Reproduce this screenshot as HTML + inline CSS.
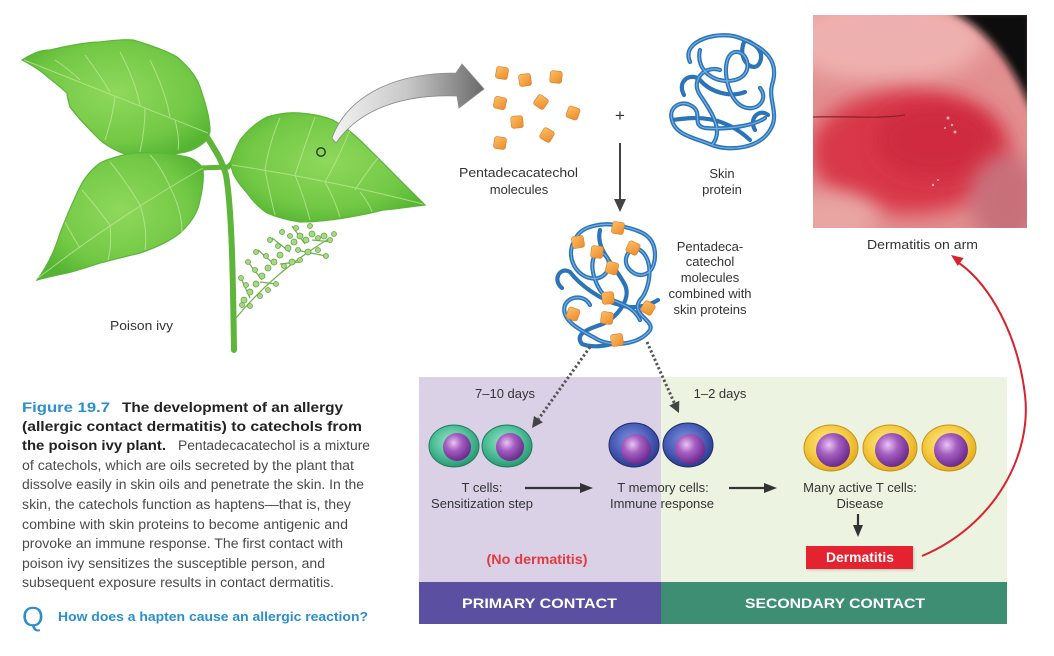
<!DOCTYPE html>
<html><head><meta charset="utf-8">
<style>
html,body{margin:0;padding:0;background:#fff;}
svg{display:block;}
text{font-family:"Liberation Sans",Arial,sans-serif;}
</style></head>
<body>
<svg width="1054" height="656" viewBox="0 0 1054 656" xmlns="http://www.w3.org/2000/svg">
<defs>
  <radialGradient id="leafG" cx="50%" cy="45%" r="60%">
    <stop offset="0" stop-color="#8fd85c"/>
    <stop offset="0.7" stop-color="#72c845"/>
    <stop offset="1" stop-color="#55b433"/>
  </radialGradient>
  <linearGradient id="arrG" x1="330" y1="0" x2="484" y2="0" gradientUnits="userSpaceOnUse">
    <stop offset="0" stop-color="#f4f4f4"/>
    <stop offset="0.5" stop-color="#c8c8c8"/>
    <stop offset="1" stop-color="#6a6a6a"/>
  </linearGradient>
  <radialGradient id="tealG" cx="45%" cy="40%" r="60%">
    <stop offset="0" stop-color="#9fe6c8"/>
    <stop offset="0.6" stop-color="#4fbf98"/>
    <stop offset="1" stop-color="#2a9774"/>
  </radialGradient>
  <radialGradient id="blueG" cx="45%" cy="40%" r="60%">
    <stop offset="0" stop-color="#8294e0"/>
    <stop offset="0.6" stop-color="#4a5fb8"/>
    <stop offset="1" stop-color="#2c3b8e"/>
  </radialGradient>
  <radialGradient id="yelG" cx="45%" cy="40%" r="60%">
    <stop offset="0" stop-color="#fdeb94"/>
    <stop offset="0.6" stop-color="#f5cd45"/>
    <stop offset="1" stop-color="#e4ab1e"/>
  </radialGradient>
  <radialGradient id="nucG" cx="38%" cy="35%" r="65%">
    <stop offset="0" stop-color="#e9c4f2"/>
    <stop offset="0.45" stop-color="#a45ec0"/>
    <stop offset="1" stop-color="#6c2c8e"/>
  </radialGradient>
  <linearGradient id="orG" x1="0" y1="0" x2="1" y2="1">
    <stop offset="0" stop-color="#fbc066"/>
    <stop offset="1" stop-color="#ec8a2a"/>
  </linearGradient>
  <filter id="blur10" x="-50%" y="-50%" width="200%" height="200%"><feGaussianBlur stdDeviation="10"/></filter>
  <filter id="blur4" x="-50%" y="-50%" width="200%" height="200%"><feGaussianBlur stdDeviation="4"/></filter>
  <filter id="blur1" x="-20%" y="-20%" width="140%" height="140%"><feGaussianBlur stdDeviation="0.8"/></filter>
  <clipPath id="phc"><rect x="813" y="15" width="214" height="213"/></clipPath>
  <g id="sq"><rect x="-6" y="-6" width="12" height="12" rx="2.5" fill="url(#orG)" stroke="#d97a28" stroke-width="0.6"/></g>
</defs>

<rect width="1054" height="656" fill="#fff"/>

<!-- ============ POISON IVY ============ -->
<g>
  <path d="M207,137 C215,150 222,160 226,175 C232,210 233,280 234,350" fill="none" stroke="#5fb53a" stroke-width="6" stroke-linecap="round"/>
  <path d="M200,168 L228,167 L233,162" fill="none" stroke="#5fb53a" stroke-width="5" stroke-linecap="round"/>
  <path d="M22,60 C35,52 42,50 50,50 C70,45 90,42 100,42 C115,40 125,39 133,40 C150,45 165,50 177,57 C190,68 197,78 200,87 C206,105 210,118 210,132 L207,140 C198,148 190,152 180,153 C160,157 145,158 133,157 C118,152 108,147 100,140 C88,128 78,118 70,107 C68,100 67,96 67,93 C58,85 50,79 43,73 C35,67 28,63 22,60 Z" fill="url(#leafG)" stroke="#5cb538" stroke-width="1.2"/>
  <path d="M203,168 C198,162 192,158 187,157 C170,153 150,152 133,153 C118,156 108,159 100,163 C88,172 82,182 77,193 C70,208 65,220 60,233 C55,250 48,265 37,280 C48,277 58,275 67,273 C80,270 90,266 100,263 C115,259 128,256 140,253 C158,247 170,241 180,233 C192,222 198,212 200,200 C203,188 204,178 203,168 Z" fill="url(#leafG)" stroke="#5cb538" stroke-width="1.2"/>
  <path d="M230,163 C234,152 237,146 240,140 C248,130 257,122 267,117 C280,113 290,112 300,113 C313,114 323,116 333,120 C346,127 356,136 367,147 C378,158 390,170 400,180 C410,190 418,198 425,205 C410,207 396,209 383,210 C372,213 362,215 350,217 C333,220 316,222 300,222 C286,220 276,217 267,213 C258,207 252,200 247,193 C241,186 236,180 233,173 Z" fill="url(#leafG)" stroke="#5cb538" stroke-width="1.2"/>
  <g fill="none" stroke="#c4eb9f" stroke-width="1" opacity="0.7">
    <path d="M208,133 Q120,98 24,60"/>
    <path d="M170,117 Q165,90 150,60 M140,105 Q135,80 120,52 M110,92 Q100,75 85,55 M80,80 Q70,70 55,60 M175,120 Q180,140 178,150 M145,108 Q145,130 140,152 M115,97 Q112,120 105,140"/>
    <path d="M203,168 Q120,215 38,278"/>
    <path d="M170,187 Q160,165 150,155 M140,205 Q125,180 110,162 M110,225 Q95,205 82,190 M80,248 Q70,232 65,222 M170,187 Q182,210 182,232 M140,205 Q148,230 145,250 M110,225 Q112,245 108,260"/>
    <path d="M232,165 Q330,180 423,204"/>
    <path d="M265,170 Q270,140 280,118 M295,175 Q305,145 315,117 M325,182 Q340,155 350,130 M355,190 Q368,170 378,158 M265,170 Q270,195 275,215 M295,175 Q305,200 310,220 M325,182 Q335,200 340,217 M360,192 Q370,205 372,212"/>
  </g>
  <g fill="none" stroke="#74b24f" stroke-width="1.3">
    <path d="M236,318 C255,295 285,265 330,238"/>
    <path d="M250,298 L241,278 M262,280 L248,262 M275,265 L258,250 M290,252 L272,238 M305,244 L292,226 M260,282 L276,284 M280,264 L300,262 M296,250 L326,256 M312,240 L332,242"/>
  </g>
  <g fill="#a6d886" stroke="#64a542" stroke-width="0.8">
    <circle cx="244" cy="300" r="3"/><circle cx="250" cy="292" r="3"/><circle cx="246" cy="285" r="2.5"/><circle cx="256" cy="284" r="3"/>
    <circle cx="262" cy="276" r="3"/><circle cx="255" cy="270" r="2.5"/><circle cx="268" cy="268" r="3"/><circle cx="274" cy="262" r="3"/>
    <circle cx="266" cy="256" r="2.5"/><circle cx="280" cy="255" r="3"/><circle cx="288" cy="248" r="3"/><circle cx="278" cy="246" r="2.5"/>
    <circle cx="294" cy="242" r="3"/><circle cx="300" cy="236" r="3"/><circle cx="290" cy="236" r="2.5"/><circle cx="306" cy="240" r="3"/>
    <circle cx="312" cy="234" r="3"/><circle cx="318" cy="238" r="2.5"/><circle cx="324" cy="236" r="3"/><circle cx="330" cy="240" r="2.5"/>
    <circle cx="298" cy="250" r="2.5"/><circle cx="308" cy="252" r="3"/><circle cx="318" cy="250" r="2.5"/><circle cx="326" cy="256" r="2.5"/>
    <circle cx="284" cy="266" r="2.5"/><circle cx="292" cy="262" r="3"/><circle cx="300" cy="260" r="2.5"/><circle cx="260" cy="296" r="2.5"/>
    <circle cx="268" cy="290" r="2.5"/><circle cx="276" cy="284" r="2.5"/><circle cx="241" cy="278" r="2.5"/><circle cx="248" cy="262" r="2.5"/>
    <circle cx="256" cy="252" r="2.5"/><circle cx="270" cy="240" r="2.5"/><circle cx="282" cy="232" r="2.5"/><circle cx="296" cy="228" r="2.5"/>
    <circle cx="310" cy="226" r="2.5"/><circle cx="242" cy="305" r="2.5"/><circle cx="250" cy="306" r="2.5"/><circle cx="334" cy="234" r="2.5"/>
  </g>
  <text x="110" y="330" font-size="13" fill="#333" textLength="63" lengthAdjust="spacingAndGlyphs">Poison ivy</text>
</g>

<path d="M332,138 C345,102 385,73 456,73 L462,64 L484,89 L459,108 L457,96 C405,94 360,108 336,143 Z" fill="url(#arrG)" stroke="#8a8a8a" stroke-width="0.8"/>
<circle cx="321" cy="152" r="4.2" fill="none" stroke="#2a3a20" stroke-width="1.4"/>

<!-- ============ MOLECULES ============ -->
<use href="#sq" transform="translate(502,73) rotate(10)"/>
<use href="#sq" transform="translate(525,80) rotate(-8)"/>
<use href="#sq" transform="translate(556,77) rotate(5)"/>
<use href="#sq" transform="translate(500,103) rotate(12)"/>
<use href="#sq" transform="translate(541,102) rotate(35)"/>
<use href="#sq" transform="translate(573,113) rotate(20)"/>
<use href="#sq" transform="translate(517,122) rotate(-5)"/>
<use href="#sq" transform="translate(500,143) rotate(8)"/>
<use href="#sq" transform="translate(547,135) rotate(30)"/>
<text x="459" y="177" font-size="13" fill="#333" textLength="119" lengthAdjust="spacingAndGlyphs">Pentadecacatechol</text>
<text x="519" y="194" font-size="13" fill="#333" text-anchor="middle">molecules</text>

<text x="620" y="121" font-size="17" fill="#333" text-anchor="middle">+</text>

<!-- skin protein -->
<g fill="none" stroke-linecap="round" stroke-linejoin="round">
  <g stroke="#2c74b8" stroke-width="4.2">
    <path d="M690,62 C680,40 720,30 740,38 C765,48 780,60 772,85 C768,100 780,115 770,130 C760,148 730,152 712,145 C695,138 675,135 672,120 C668,108 680,100 690,105 C705,112 690,125 705,128 C730,130 755,125 765,118"/>
    <path d="M700,50 C695,70 715,85 735,80 C755,75 748,50 735,52 C720,55 725,95 740,105 C755,115 770,100 760,88"/>
    <path d="M712,145 C725,130 710,110 700,95 C690,80 705,65 720,70"/>
    <path d="M745,40 C735,60 755,75 760,62 C765,50 752,42 745,40"/>
    <path d="M672,120 C690,118 720,112 750,140"/>
    <path d="M684,95 C676,80 692,72 700,80 C710,92 730,98 745,92"/>
    <path d="M755,130 C748,118 760,108 768,115"/>
  </g>
  <g stroke="#74b0e4" stroke-width="1.2">
    <path d="M690,62 C680,40 720,30 740,38 C765,48 780,60 772,85 C768,100 780,115 770,130 C760,148 730,152 712,145 C695,138 675,135 672,120 C668,108 680,100 690,105 C705,112 690,125 705,128 C730,130 755,125 765,118"/>
    <path d="M700,50 C695,70 715,85 735,80 C755,75 748,50 735,52 C720,55 725,95 740,105 C755,115 770,100 760,88"/>
    <path d="M712,145 C725,130 710,110 700,95 C690,80 705,65 720,70"/>
  </g>
</g>
<text x="722" y="178" font-size="13" fill="#333" text-anchor="middle">Skin</text>
<text x="722" y="194" font-size="13" fill="#333" text-anchor="middle">protein</text>

<line x1="620" y1="143" x2="620" y2="201" stroke="#444" stroke-width="2"/>
<polygon points="614,199 626,199 620,212" fill="#444"/>

<!-- combined tangle -->
<g fill="none" stroke-linecap="round" stroke-linejoin="round">
  <g stroke="#2c74b8" stroke-width="4.2">
    <path d="M575,240 C580,225 605,222 620,226 C640,230 655,235 655,255 C655,275 640,280 630,270 C620,260 630,245 640,250 C655,260 650,290 640,300 C630,315 655,320 650,330 C640,345 610,348 595,338 C580,330 560,320 565,305 C570,295 585,295 590,305"/>
    <path d="M575,240 C565,255 575,275 590,278 C605,282 615,265 605,255 C595,245 585,265 600,290 C610,305 630,300 640,320"/>
    <path d="M562,288 C552,280 560,266 570,272 C580,285 600,300 620,305 C635,310 650,305 658,300"/>
    <path d="M600,230 C595,250 615,265 625,285 C632,300 615,320 600,325 C585,330 575,335 582,344 C592,348 605,346 612,344"/>
  </g>
  <g stroke="#74b0e4" stroke-width="1.2">
    <path d="M575,240 C580,225 605,222 620,226 C640,230 655,235 655,255 C655,275 640,280 630,270 C620,260 630,245 640,250 C655,260 650,290 640,300 C630,315 655,320 650,330 C640,345 610,348 595,338 C580,330 560,320 565,305 C570,295 585,295 590,305"/>
    <path d="M575,240 C565,255 575,275 590,278 C605,282 615,265 605,255 C595,245 585,265 600,290 C610,305 630,300 640,320"/>
  </g>
</g>
<use href="#sq" transform="translate(618,228) rotate(10)"/>
<use href="#sq" transform="translate(578,242) rotate(-10)"/>
<use href="#sq" transform="translate(597,252) rotate(5)"/>
<use href="#sq" transform="translate(633,248) rotate(25)"/>
<use href="#sq" transform="translate(612,268) rotate(15)"/>
<use href="#sq" transform="translate(608,298) rotate(-5)"/>
<use href="#sq" transform="translate(573,314) rotate(20)"/>
<use href="#sq" transform="translate(607,318) rotate(8)"/>
<use href="#sq" transform="translate(648,308) rotate(30)"/>
<use href="#sq" transform="translate(617,340) rotate(-8)"/>
<g font-size="13" fill="#333" text-anchor="middle">
  <text x="710" y="251">Pentadeca-</text>
  <text x="710" y="266">catechol</text>
  <text x="710" y="282">molecules</text>
  <text x="710" y="298">combined with</text>
  <text x="710" y="314">skin proteins</text>
</g>

<!-- ============ PHOTO ============ -->
<g clip-path="url(#phc)">
  <rect x="813" y="15" width="214" height="213" fill="#e28f90"/>
  <ellipse cx="885" cy="40" rx="100" ry="42" fill="#eeb0ae" filter="url(#blur10)"/>
  <ellipse cx="910" cy="152" rx="100" ry="62" fill="#d8384a" filter="url(#blur10)"/>
  <ellipse cx="935" cy="140" rx="60" ry="38" fill="#cf2b3f" filter="url(#blur10)"/>
  <ellipse cx="835" cy="218" rx="45" ry="25" fill="#e8a6a3" filter="url(#blur10)"/>
  <ellipse cx="1005" cy="200" rx="35" ry="45" fill="#c76f7a" filter="url(#blur10)"/>
  <path d="M948,10 C990,28 1015,70 1032,112 L1032,10 Z" fill="#0e0a0a" filter="url(#blur4)"/>
  <path d="M813,117 C850,116 880,119 905,115" fill="none" stroke="#7a1f25" stroke-width="1.1"/>
  <g fill="#f3d3c6" opacity="0.8">
    <circle cx="948" cy="118" r="1.5"/><circle cx="952" cy="125" r="1.2"/><circle cx="955" cy="132" r="1.5"/>
    <circle cx="945" cy="128" r="1"/><circle cx="933" cy="185" r="1.2"/><circle cx="938" cy="180" r="1"/>
  </g>
</g>
<text x="867" y="249" font-size="13" fill="#333" textLength="111" lengthAdjust="spacingAndGlyphs">Dermatitis on arm</text>

<!-- ============ BOTTOM PANEL ============ -->
<rect x="419" y="377" width="242" height="205" fill="#dad1e7"/>
<rect x="661" y="377" width="346" height="205" fill="#edf3e1"/>
<rect x="419" y="582" width="242" height="42" fill="#5a4fa0"/>
<rect x="661" y="582" width="346" height="42" fill="#3e8e73"/>
<text x="462" y="608" font-size="14" font-weight="bold" fill="#fff" textLength="155" lengthAdjust="spacingAndGlyphs">PRIMARY CONTACT</text>
<text x="745" y="608" font-size="14" font-weight="bold" fill="#fff" textLength="180" lengthAdjust="spacingAndGlyphs">SECONDARY CONTACT</text>

<line x1="590" y1="347" x2="538.5" y2="419" stroke="#555" stroke-width="3" stroke-dasharray="2.3 2.3"/>
<polygon points="532,428 542.9,422.3 534,415.9" fill="#444"/>
<line x1="647" y1="342" x2="674.3" y2="403" stroke="#555" stroke-width="3" stroke-dasharray="2.3 2.3"/>
<polygon points="679,413 679.3,400.7 669.3,405.5" fill="#444"/>

<g font-size="13" fill="#333" text-anchor="middle">
  <text x="505" y="398">7–10 days</text>
  <text x="720" y="398">1–2 days</text>
  <text x="482" y="492">T cells:</text>
  <text x="482" y="508">Sensitization step</text>
  <text x="663" y="492">T memory cells:</text>
  <text x="662" y="508">Immune response</text>
  <text x="860" y="492">Many active T cells:</text>
  <text x="860" y="508">Disease</text>
</g>

<g stroke-width="1">
  <ellipse cx="454" cy="446" rx="25" ry="21" fill="url(#tealG)" stroke="#1f7a5e"/>
  <circle cx="457" cy="447" r="14" fill="url(#nucG)"/>
  <ellipse cx="507" cy="446" rx="25" ry="21" fill="url(#tealG)" stroke="#1f7a5e"/>
  <circle cx="510" cy="447" r="14" fill="url(#nucG)"/>
  <ellipse cx="634" cy="445" rx="25" ry="22" fill="url(#blueG)" stroke="#222e6e"/>
  <circle cx="636" cy="449" r="15" fill="url(#nucG)"/>
  <ellipse cx="688" cy="445" rx="25" ry="22" fill="url(#blueG)" stroke="#222e6e"/>
  <circle cx="690" cy="449" r="15" fill="url(#nucG)"/>
  <ellipse cx="831" cy="448" rx="27" ry="23" fill="url(#yelG)" stroke="#c4921a"/>
  <circle cx="833" cy="450" r="17" fill="url(#nucG)"/>
  <ellipse cx="890" cy="448" rx="27" ry="23" fill="url(#yelG)" stroke="#c4921a"/>
  <circle cx="892" cy="450" r="17" fill="url(#nucG)"/>
  <ellipse cx="949" cy="448" rx="27" ry="23" fill="url(#yelG)" stroke="#c4921a"/>
  <circle cx="951" cy="450" r="17" fill="url(#nucG)"/>
</g>

<line x1="525" y1="488" x2="582" y2="488" stroke="#333" stroke-width="2.2"/>
<polygon points="580,483 593,488 580,493" fill="#333"/>
<line x1="729" y1="488" x2="766" y2="488" stroke="#333" stroke-width="2.2"/>
<polygon points="764,483 777,488 764,493" fill="#333"/>
<line x1="858" y1="514" x2="858" y2="527" stroke="#333" stroke-width="2.2"/>
<polygon points="853,525 858,537 863,525" fill="#333"/>

<text x="537" y="564" font-size="13.5" font-weight="bold" fill="#e23a40" text-anchor="middle" textLength="101" lengthAdjust="spacingAndGlyphs">(No dermatitis)</text>

<rect x="808" y="548" width="107" height="23" fill="#b8a0a0" opacity="0.35" filter="url(#blur1)"/>
<rect x="806" y="546" width="107" height="23" fill="#e5222f"/>
<text x="860" y="562" font-size="13.5" font-weight="bold" fill="#fff" text-anchor="middle" textLength="68" lengthAdjust="spacingAndGlyphs">Dermatitis</text>

<path d="M922,556 C995,525 1032,455 1025,395 C1018,335 990,285 959,263" fill="none" stroke="#d8222e" stroke-width="2"/>
<polygon points="951,255 963.6,258 957.8,266" fill="#d8222e"/>

<!-- ============ CAPTION ============ -->
<g font-size="13.5">
  <text x="22" y="412" font-weight="bold" fill="#2a8fcb" textLength="88" lengthAdjust="spacingAndGlyphs">Figure 19.7</text>
  <text x="122" y="412" font-weight="bold" fill="#222" textLength="221" lengthAdjust="spacingAndGlyphs">The development of an allergy</text>
  <text x="22" y="431" font-weight="bold" fill="#222" textLength="340" lengthAdjust="spacingAndGlyphs">(allergic contact dermatitis) to catechols from</text>
  <text x="22" y="450" font-weight="bold" fill="#222" textLength="144" lengthAdjust="spacingAndGlyphs">the poison ivy plant.</text>
  <text x="178" y="450" fill="#4a4a4a" textLength="192" lengthAdjust="spacingAndGlyphs">Pentadecacatechol is a mixture</text>
  <text x="22" y="470" fill="#4a4a4a" textLength="332" lengthAdjust="spacingAndGlyphs">of catechols, which are oils secreted by the plant that</text>
  <text x="22" y="489" fill="#4a4a4a" textLength="342" lengthAdjust="spacingAndGlyphs">dissolve easily in skin oils and penetrate the skin. In the</text>
  <text x="22" y="509" fill="#4a4a4a" textLength="329" lengthAdjust="spacingAndGlyphs">skin, the catechols function as haptens—that is, they</text>
  <text x="22" y="529" fill="#4a4a4a" textLength="326" lengthAdjust="spacingAndGlyphs">combine with skin proteins to become antigenic and</text>
  <text x="22" y="548" fill="#4a4a4a" textLength="321" lengthAdjust="spacingAndGlyphs">provoke an immune response. The first contact with</text>
  <text x="22" y="568" fill="#4a4a4a" textLength="303" lengthAdjust="spacingAndGlyphs">poison ivy sensitizes the susceptible person, and</text>
  <text x="22" y="587" fill="#4a4a4a" textLength="312" lengthAdjust="spacingAndGlyphs">subsequent exposure results in contact dermatitis.</text>
</g>
<text x="22" y="626" font-size="28" fill="#2a8fcb">Q</text>
<text x="58" y="621" font-size="12.5" font-weight="bold" fill="#2a8fcb" textLength="310" lengthAdjust="spacingAndGlyphs">How does a hapten cause an allergic reaction?</text>

</svg>
</body></html>
